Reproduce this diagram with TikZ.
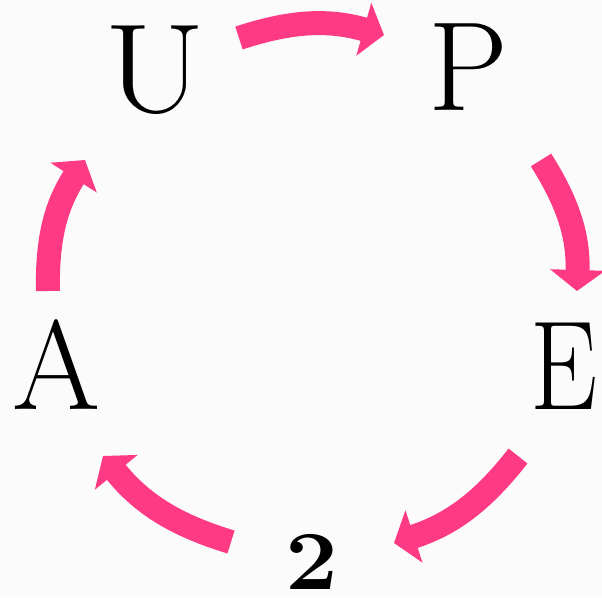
\documentclass[tikz,border=0pt]{standalone}
\usetikzlibrary{arrows.meta}
\definecolor{arrpink}{RGB}{255,58,132}
\definecolor{bgwhite}{RGB}{251,251,251}
\begin{document}
\begin{tikzpicture}[x=1pt,y=-1pt,
  letter/.style={inner sep=0pt,anchor=base,font=\fontsize{127}{127}\selectfont},
  arr/.style={draw=arrpink,line width=24pt,-{Triangle[length=21pt,width=54pt]}}]
\fill[bgwhite] (0,0) rectangle (602,597);
\useasboundingbox (0,0) rectangle (602,597);
\node[letter] (U) at (155,112) {\scalebox{1.15}[1]{U}};
\node[letter] (P) at (468,110) {P};
\node[letter] (E) at (564,409) {\scalebox{0.84}[1]{E}};
\node[letter] (A) at (57,409) {A};
\node[letter,font=\fontsize{84}{84}\selectfont\bfseries] (two) at (312,589) {\scalebox{1.12}[1]{2}};
\coordinate (s1) at (239,38);  \coordinate (t1) at (384,35);
\coordinate (s2) at (541,160); \coordinate (t2) at (577,291);
\coordinate (s3) at (518,456); \coordinate (t3) at (394,543);
\coordinate (s4) at (231,542); \coordinate (t4) at (103,456);
\coordinate (s5) at (48,291);  \coordinate (t5) at (85,160);
\draw[arr] (s1) to[bend left=17] (t1);
\draw[arr] (s2) to[bend left=17] (t2);
\draw[arr] (s3) to[bend left=17] (t3);
\draw[arr] (s4) to[bend left=17] (t4);
\draw[arr] (s5) to[bend left=17] (t5);
\end{tikzpicture}
\end{document}
